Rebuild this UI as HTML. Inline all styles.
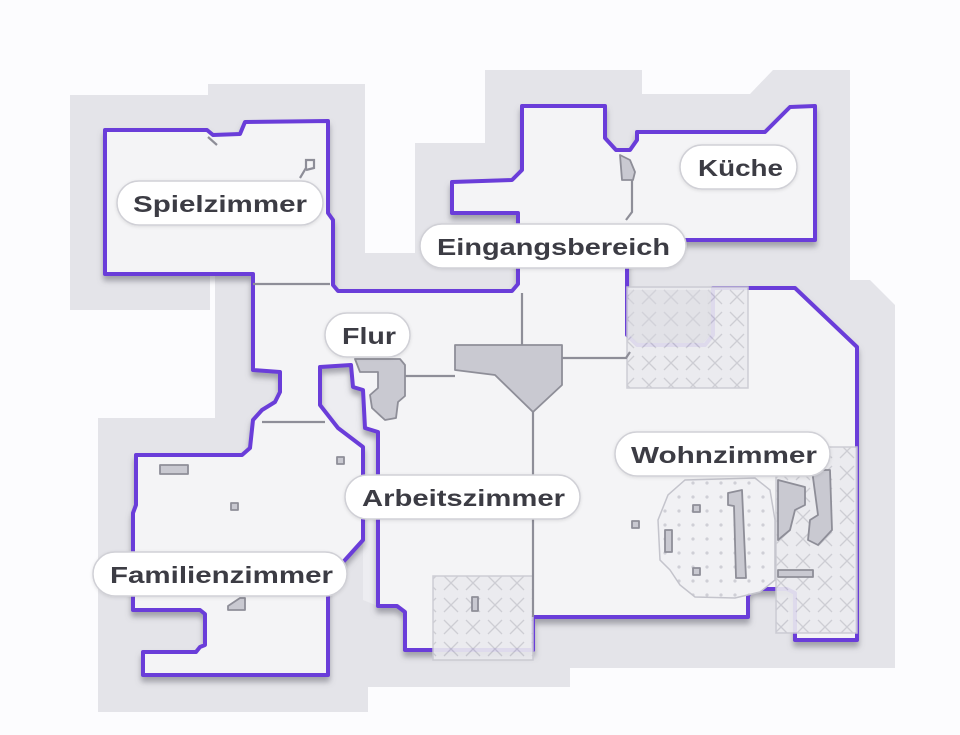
<!DOCTYPE html>
<html><head><meta charset="utf-8"><style>
html,body{margin:0;padding:0;background:#fcfcfe;}
svg{display:block}
text{font-family:"Liberation Sans",sans-serif;font-weight:bold;fill:#3c3c44;font-size:23px}
</style></head><body>
<svg width="960" height="735" viewBox="0 0 960 735" xmlns="http://www.w3.org/2000/svg">
<defs>
<pattern id="hx" width="22" height="22" patternUnits="userSpaceOnUse">
<rect width="22" height="22" fill="#ebebef"/>
<path d="M4 4L18 18M18 4L4 18" stroke="#c9c9d1" stroke-width="1.3"/>
</pattern>
<pattern id="dt" width="14" height="14" patternUnits="userSpaceOnUse">
<rect width="14" height="14" fill="#f1f1f4"/>
<circle cx="7" cy="7" r="1.6" fill="#cfcfd6"/>
</pattern>
<filter id="sh" x="-10%" y="-10%" width="120%" height="120%">
<feDropShadow dx="0" dy="5" stdDeviation="3" flood-color="#6a6a75" flood-opacity="0.55"/>
</filter>
<filter id="ps" x="-10%" y="-20%" width="120%" height="140%">
<feDropShadow dx="0" dy="1" stdDeviation="1.5" flood-color="#000" flood-opacity="0.1"/>
</filter>
</defs>
<!-- halo -->
<g fill="#e4e4e9">
<rect x="70" y="95" width="140" height="215"/>
<rect x="208" y="84" width="157" height="172"/>
<rect x="215" y="253" width="160" height="170"/>
<rect x="98" y="418" width="270" height="294"/>
<polygon points="365,253 415,253 415,143 485,143 485,70 642,70 642,94 750,94 773,70 850,70 850,280 870,280 895,305 895,668 570,668 570,687 368,687 368,253"/>
</g>
<path d="M320,367 L351,365 353,387 363,390 365,428 378,432 378,606 363,600 363,447 338,428 320,405Z" fill="#ededf1"/>
<!-- floor -->
<path filter="url(#sh)" fill="#f4f4f6" stroke="#6a3cd9" stroke-width="4" stroke-linejoin="round" d="M105,130 L207,130 213,135 240,134 245,122 328,121 328,213 333,220 333,285 338,291 512,291 518,284 518,213 452,213 452,182 512,180 522,170 522,106 605,106 605,138 616,150 630,150 637,140 637,132 765,132 790,107 815,106 815,240 627,240 627,335 637,345 705,345 713,335 713,288 795,288 857,347 857,640 795,640 795,593 787,589 752,589 748,596 748,617 533,617 533,650 405,650 405,612 397,606 378,606 378,432 365,428 363,390 353,387 351,365 320,367 320,405 338,428 363,447 363,540 345,560 335,570 328,580 328,675 143,675 143,652 196,652 200,647 205,645 205,614 200,610 133,610 133,513 136,505 136,455 242,455 250,448 253,420 262,410 275,402 280,392 280,372 253,370 253,274 105,274 Z"/>
<!-- hatched zones -->
<rect x="627" y="287" width="121" height="101" fill="url(#hx)" stroke="#c9c9d1" stroke-width="1.5" opacity="0.9"/>
<path d="M629,290 L711,290 711,335 703,343 637,343 629,335Z" fill="#d9d9df" opacity="0.5"/>
<rect x="433" y="576" width="100" height="84" fill="url(#hx)" stroke="#c9c9d1" stroke-width="1.5" opacity="0.9"/>
<rect x="776" y="447" width="81" height="186" fill="url(#hx)" stroke="#c9c9d1" stroke-width="1.5" opacity="0.9"/>
<!-- rug -->
<path d="M685,480 L755,478 770,490 775,520 775,580 760,592 735,598 695,597 680,585 670,570 660,560 658,520 668,495 Z" fill="url(#dt)" stroke="#c4c4cc" stroke-width="1.5"/>
<!-- dividers -->
<g stroke="#8e8e98" stroke-width="2.2" fill="none">
<path d="M253,284 L330,284"/>
<path d="M262,422 L325,422"/>
<path d="M522,293 L522,345"/>
<path d="M405,376 L455,376"/>
<path d="M562,358 L626,358 630,352"/>
<path d="M533,412 L533,617"/>
<path d="M622,162 L632,172 632,212 626,220"/>
<path d="M208,137 L217,145"/>
<path d="M300,178 L306,168 306,160 314,160 314,168 306,170"/>
</g>
<!-- objects -->
<g fill="#c9c9d1" stroke="#8e8e98" stroke-width="1.8" stroke-linejoin="round">
<polygon points="455,345 562,345 562,385 533,412 495,375 455,370"/>
<polygon points="355,359 400,359 405,365 405,396 398,402 396,418 385,420 372,408 370,395 378,388 378,372 360,372"/>
<polygon points="620,155 630,160 635,172 633,180 622,180"/>
<rect x="160" y="465" width="28" height="9"/>
<rect x="231" y="503" width="7" height="7"/>
<rect x="337" y="457" width="7" height="7"/>
<rect x="632" y="521" width="7" height="7"/>
<rect x="693" y="505" width="7" height="7"/>
<rect x="693" y="568" width="7" height="7"/>
<rect x="665" y="530" width="7" height="22"/>
<rect x="472" y="597" width="6" height="14"/>
<polygon points="228,606 240,598 245,598 245,610 228,610"/>
<polygon points="728,493 742,490 746,578 736,578 734,506 728,505"/>
<polygon points="778,480 805,487 805,505 795,510 790,530 778,540"/>
<polygon points="812,470 830,470 832,530 818,545 808,540 810,520 818,515"/>
<rect x="778" y="570" width="35" height="7"/>
</g>
<!-- labels -->
<g fill="#ffffff" stroke="#d0d0d6" stroke-width="1.5" filter="url(#ps)">
<rect x="117" y="181" width="206" height="44" rx="22"/>
<rect x="420" y="224" width="266" height="44" rx="22"/>
<rect x="680" y="145" width="117" height="44" rx="22"/>
<rect x="325" y="313" width="85" height="44" rx="22"/>
<rect x="615" y="432" width="215" height="44" rx="22"/>
<rect x="345" y="475" width="235" height="44" rx="22"/>
<rect x="93" y="552" width="254" height="44" rx="22"/>
</g>
<text x="133" y="212" textLength="174" lengthAdjust="spacingAndGlyphs">Spielzimmer</text>
<text x="437" y="255" textLength="233" lengthAdjust="spacingAndGlyphs">Eingangsbereich</text>
<text x="698" y="176" textLength="85" lengthAdjust="spacingAndGlyphs">Küche</text>
<text x="342" y="344" textLength="54" lengthAdjust="spacingAndGlyphs">Flur</text>
<text x="631" y="463" textLength="186" lengthAdjust="spacingAndGlyphs">Wohnzimmer</text>
<text x="362" y="506" textLength="203" lengthAdjust="spacingAndGlyphs">Arbeitszimmer</text>
<text x="110" y="583" textLength="223" lengthAdjust="spacingAndGlyphs">Familienzimmer</text>
</svg>
</body></html>
